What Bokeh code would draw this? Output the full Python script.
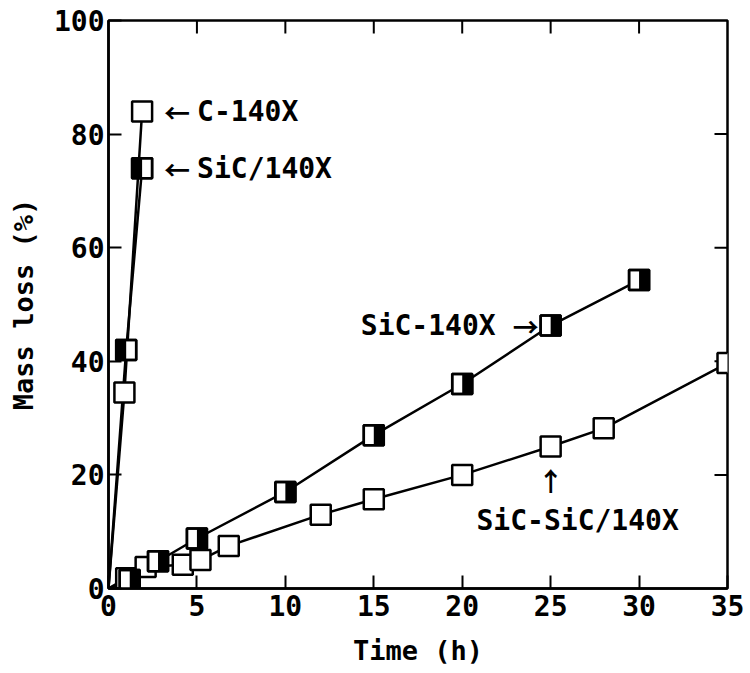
import math
from bokeh.plotting import figure
from bokeh.models import FixedTicker
from bokeh.core.properties import value
from bokeh.embed import file_html
from bokeh.resources import INLINE

# ---- data ----
c140x_t = [0, 0.9, 1.9]
c140x_m = [0, 34.5, 84]

sic_slash_t = [0, 1.0, 1.9]
sic_slash_m = [0, 42, 74]

sic140x_t = [0, 1.2, 2.8, 5, 10, 15, 20, 25, 30]
sic140x_m = [0, 1.5, 4.8, 8.8, 17, 27, 36, 46.3, 54.3]

sicsic_t = [0, 1.0, 2.1, 4.2, 5.2, 6.8, 12, 15, 20, 25, 28, 35]
sicsic_m = [0, 1.8, 3.8, 4.2, 5.0, 7.5, 13, 15.7, 20, 25, 28.2, 39.7]

x_ticks = [0, 5, 10, 15, 20, 25, 30, 35]
y_ticks = [0, 20, 40, 60, 80, 100]
X_MAX = 35
Y_MAX = 100

FONT = "DejaVu Sans Mono"
ARROW_FONT = "Noto Sans CJK JP"
MS = 20      # marker size (px)
LW = 2.5
TICK = 13

p = figure(width=750, height=673, x_range=(0, X_MAX), y_range=(0, Y_MAX),
           output_backend="svg", toolbar_location=None,
           min_border_left=108, min_border_right=23,
           min_border_top=20, min_border_bottom=85)
p.background_fill_color = "white"
p.border_fill_color = "white"
p.outline_line_color = "black"
p.outline_line_width = LW
p.grid.visible = False

for ax in (p.xaxis[0], p.yaxis[0]):
    ax.major_tick_in = TICK
    ax.major_tick_out = 0
    ax.minor_tick_line_color = None
    ax.major_tick_line_width = 2
    ax.axis_line_width = LW
    ax.major_label_text_font = FONT
    ax.major_label_text_font_style = "bold"
    ax.major_label_text_font_size = "28px"
    ax.major_label_text_color = "black"
    ax.axis_label_text_font = FONT
    ax.axis_label_text_font_style = "bold"
    ax.axis_label_text_font_size = "27px"
    ax.axis_label_text_color = "black"

p.xaxis.ticker = FixedTicker(ticks=x_ticks)
p.yaxis.ticker = FixedTicker(ticks=y_ticks)
p.xaxis.axis_label = "Time (h)"
p.yaxis.axis_label = "Mass loss (%)"
p.xaxis.major_label_standoff = 6
p.yaxis.major_label_standoff = 4
p.xaxis.axis_label_standoff = 16
p.yaxis.axis_label_standoff = 12

# mirrored inward ticks on the top and right edges of the frame
p.ray(x_ticks[1:-1], [Y_MAX] * (len(x_ticks) - 2), length=TICK, length_units="screen",
      angle=-math.pi / 2, line_color="black", line_width=2)
p.ray([X_MAX] * (len(y_ticks) - 2), y_ticks[1:-1], length=TICK, length_units="screen",
      angle=math.pi, line_color="black", line_width=2)

# ---- lines ----
for t, m in [(c140x_t, c140x_m), (sic_slash_t, sic_slash_m),
             (sic140x_t, sic140x_m), (sicsic_t, sicsic_m)]:
    p.line(t, m, line_color="black", line_width=LW)

# ---- markers ----
def open_sq(t, m):
    p.scatter(t, m, marker="square", size=MS, fill_color="white",
              line_color="black", line_width=LW)

def half_sq(t, m, angle):
    p.scatter(t, m, marker="square", size=MS, fill_color="white",
              line_color="black", line_width=LW)
    p.ray(t, m, length=MS / 2, length_units="screen", angle=angle,
          line_color="black", line_width=MS, line_cap="butt")
    p.scatter(t, m, marker="square", size=MS, fill_color=None,
              line_color="black", line_width=LW)

open_sq(c140x_t[1:], c140x_m[1:])
open_sq(sicsic_t[1:], sicsic_m[1:])
half_sq(sic140x_t[1:], sic140x_m[1:], 0.0)
half_sq(sic_slash_t[1:], sic_slash_m[1:], math.pi)

# ---- labels ----
def label(x, y, txt, align, dx, dy, font=FONT, size="28px"):
    p.text([x], [y], text=[txt], text_font=value(font), text_font_style="bold",
           text_font_size=size, text_align=align, text_baseline="middle",
           text_color="black", x_offset=dx, y_offset=dy)

label(c140x_t[-1], c140x_m[-1], "\u2190", "left", 22, 0, ARROW_FONT, "26px")
label(c140x_t[-1], c140x_m[-1], "C-140X", "left", 55, 0)
label(sic_slash_t[-1], sic_slash_m[-1], "\u2190", "left", 22, 0, ARROW_FONT, "26px")
label(sic_slash_t[-1], sic_slash_m[-1], "SiC/140X", "left", 55, 0)
label(sic140x_t[7], sic140x_m[7], "\u2192", "right", -12, 0, ARROW_FONT, "26px")
label(sic140x_t[7], sic140x_m[7], "SiC-140X", "right", -55, 0)
label(sicsic_t[9], sicsic_m[9], "\u2191", "center", 0, 33, ARROW_FONT, "26px")
label(sicsic_t[9], sicsic_m[9], "SiC-SiC/140X", "center", 27, 74)

open("out.html", "w").write(file_html(p, INLINE))
